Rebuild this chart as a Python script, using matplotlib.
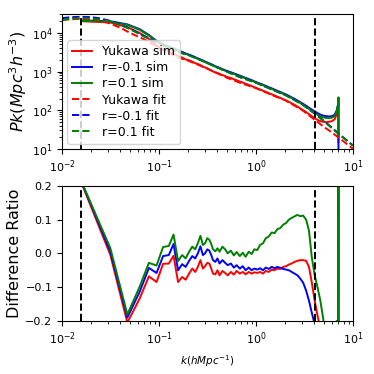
import numpy as np
import matplotlib
matplotlib.use('Agg')
import matplotlib.pyplot as plt

# k bins of the simulations (h/Mpc)
k_sim = [0.0157, 0.0314, 0.0471, 0.0628, 0.0785, 0.0942, 0.110, 0.126, 0.141, 0.157,
         0.173, 0.188, 0.204, 0.220, 0.236, 0.251, 0.267, 0.283, 0.298, 0.314,
         0.330, 0.345, 0.360, 0.380, 0.400, 0.420, 0.450, 0.480, 0.510, 0.550,
         0.590, 0.630, 0.680, 0.730, 0.780, 0.840, 0.900, 0.960, 1.03, 1.10,
         1.18, 1.26, 1.35, 1.45, 1.55, 1.66, 1.78, 1.90, 2.04, 2.18,
         2.33, 2.50, 2.67, 2.86, 3.06, 3.28, 3.51, 3.75, 4.02, 4.30,
         4.60, 4.93, 5.27, 5.64, 6.04, 6.46, 6.80, 7.00, 7.07, 7.07]

pk_yukawa_sim = [20000, 18500, 14000, 10000, 7000, 4700, 3800, 3300, 2950, 2500,
                 2300, 2050, 1950, 1800, 1640, 1560, 1460, 1330, 1270, 1210,
                 1130, 1060, 1000, 950, 920, 860, 810, 760, 715, 680,
                 630, 595, 550, 520, 480, 452, 420, 393, 365, 342,
                 318, 298, 275, 257, 240, 222, 208, 193, 178, 165,
                 150, 137, 124, 111, 100, 89, 79, 70, 62, 56,
                 52, 50, 49, 50, 52, 58, 80, 115, 150, 15]
pk_rm01_sim = [21000, 20000, 16500, 12500, 8800, 6200, 5050, 4400, 4000, 3550,
               3200, 2930, 2720, 2520, 2340, 2180, 2030, 1900, 1800, 1700,
               1600, 1520, 1450, 1370, 1300, 1230, 1150, 1080, 1020, 955,
               895, 840, 785, 730, 685, 640, 598, 557, 515, 485,
               455, 423, 393, 367, 341, 316, 295, 275, 254, 234,
               214, 196, 178, 161, 145, 130, 116, 104, 93, 84,
               77, 72, 70, 69, 70, 76, 100, 140, 205, 0.5]
pk_rp01_sim = [20500, 19500, 16000, 12000, 8500, 6000, 4900, 4300, 3900, 3450,
               3100, 2850, 2650, 2450, 2280, 2120, 1980, 1850, 1750, 1650,
               1560, 1480, 1410, 1330, 1260, 1200, 1120, 1050, 990, 930,
               870, 815, 760, 710, 665, 620, 580, 540, 500, 470,
               440, 410, 380, 355, 330, 305, 285, 265, 245, 225,
               205, 188, 170, 153, 137, 122, 108, 96, 85, 76,
               69, 65, 63, 62, 64, 70, 95, 140, 215, 22]

# fitted spectra
k_fit = [0.01, 0.0125, 0.0157, 0.02, 0.025, 0.03, 0.04, 0.05, 0.07, 0.1,
         0.15, 0.2, 0.3, 0.5, 0.7, 1.0, 1.5, 2.0, 3.0, 4.0,
         5.0, 6.0, 7.0, 8.0, 10.0]
pk_yukawa_fit = [21500, 22500, 23000, 22500, 20500, 18000, 13500, 10000, 6800, 4100,
                 2400, 1900, 1250, 690, 500, 370, 240, 180, 100, 57,
                 37, 27, 20, 15.5, 10]
pk_rm01_fit = [24000, 25500, 26000, 25500, 23500, 21000, 16500, 12800, 8300, 5450,
               3350, 2720, 1800, 1000, 705, 520, 335, 250, 143, 83,
               53, 36, 25.5, 19.3, 12.2]
pk_rp01_fit = [21500, 23500, 24000, 23500, 22000, 20000, 16000, 12500, 8000, 5300,
               3250, 2650, 1750, 980, 690, 510, 330, 245, 140, 82,
               52, 35, 25, 19, 12]

# difference ratio sim vs fit
ratio_yukawa = [0.212, -0.004, -0.205, -0.135, -0.068, -0.085, -0.031, -0.030, -0.007, -0.085,
                -0.070, -0.078, -0.060, -0.045, -0.055, -0.040, -0.020, -0.045, -0.038, -0.028,
                -0.030, -0.045, -0.060, -0.062, -0.050, -0.065, -0.052, -0.058, -0.065, -0.055,
                -0.063, -0.052, -0.060, -0.055, -0.062, -0.055, -0.060, -0.056, -0.058, -0.055,
                -0.060, -0.052, -0.055, -0.048, -0.050, -0.045, -0.046, -0.040, -0.038, -0.033,
                -0.030, -0.025, -0.022, -0.020, -0.020, -0.022, -0.040, -0.085, -0.140, -0.185,
                -0.220, -0.260, -0.290, -0.300, -0.300, -0.290, -0.250, -0.250, 1.5, -1.0]
ratio_rm01 = [0.215, 0.006, -0.190, -0.115, -0.043, -0.058, -0.008, -0.005, 0.028, -0.050,
              -0.032, -0.040, -0.022, -0.008, -0.015, 0.000, 0.021, -0.005, 0.000, 0.012,
              0.008, -0.005, -0.020, -0.025, -0.015, -0.030, -0.020, -0.028, -0.035, -0.030,
              -0.042, -0.035, -0.045, -0.038, -0.050, -0.042, -0.050, -0.045, -0.048, -0.044,
              -0.050, -0.042, -0.046, -0.040, -0.044, -0.040, -0.043, -0.046, -0.048, -0.050,
              -0.055, -0.060, -0.065, -0.075, -0.087, -0.110, -0.140, -0.175, -0.210, -0.250,
              -0.290, -0.320, -0.340, -0.340, -0.330, -0.310, -0.250, -0.250, 2.0, -1.0]
ratio_rp01 = [0.215, 0.016, -0.181, -0.100, -0.028, -0.036, 0.019, 0.022, 0.056, -0.023,
              -0.005, -0.015, 0.005, 0.020, 0.012, 0.030, 0.052, 0.025, 0.030, 0.045,
              0.040, 0.028, 0.012, 0.006, 0.015, 0.005, 0.020, 0.012, 0.000, 0.008,
              -0.006, 0.004, -0.008, 0.002, -0.010, 0.005, -0.002, 0.012, 0.010, 0.025,
              0.030, 0.045, 0.050, 0.062, 0.060, 0.072, 0.075, 0.085, 0.090, 0.100,
              0.105, 0.110, 0.114, 0.110, 0.112, 0.100, 0.068, -0.010, -0.065, -0.100,
              -0.140, -0.195, -0.260, -0.300, -0.320, -0.300, -0.200, -0.250, 2.0, -1.0]

k_min = 0.0157
k_max = 4.05

plt.rcParams['font.size'] = 8
fig = plt.figure(figsize=(3.74, 3.74), dpi=100)
ax1 = fig.add_axes([0.166, 0.602, 0.778, 0.361])
ax2 = fig.add_axes([0.166, 0.142, 0.778, 0.361])

# top panel: power spectra
ax1.plot(k_sim, pk_yukawa_sim, color='red', lw=1.4, label='Yukawa sim')
ax1.plot(k_sim, pk_rm01_sim, color='blue', lw=1.4, label='r=-0.1 sim')
ax1.plot(k_sim, pk_rp01_sim, color='green', lw=1.4, label='r=0.1 sim')
ax1.plot(k_fit, pk_yukawa_fit, color='red', lw=1.4, ls='--', label='Yukawa fit')
ax1.plot(k_fit, pk_rm01_fit, color='blue', lw=1.4, ls='--', label='r=-0.1 fit')
ax1.plot(k_fit, pk_rp01_fit, color='green', lw=1.4, ls='--', label='r=0.1 fit')
ax1.axvline(k_min, color='black', ls='--', lw=1.4)
ax1.axvline(k_max, color='black', ls='--', lw=1.4)
ax1.set_xscale('log')
ax1.set_yscale('log')
ax1.set_xlim(0.01, 10)
ax1.set_ylim(10, 3.1e4)
ax1.set_ylabel(r'$Pk(Mpc^3h^{-3})$', fontsize=11.5, labelpad=2)
ax1.legend(loc='lower left', fontsize=9, labelspacing=0.25, handlelength=1.6,
           borderaxespad=0.4)

# bottom panel: difference ratio
ax2.plot(k_sim, ratio_yukawa, color='red', lw=1.4)
ax2.plot(k_sim, ratio_rm01, color='blue', lw=1.4)
ax2.plot(k_sim, ratio_rp01, color='green', lw=1.4)
ax2.axvline(k_min, color='black', ls='--', lw=1.4)
ax2.axvline(k_max, color='black', ls='--', lw=1.4)
ax2.set_xscale('log')
ax2.set_xlim(0.01, 10)
ax2.set_ylim(-0.2, 0.2)
ax2.set_yticks([-0.2, -0.1, 0.0, 0.1, 0.2])
ax2.set_ylabel('Difference Ratio', fontsize=11.5, labelpad=2)
ax2.set_xlabel(r'$k(hMpc^{-1})$', fontsize=7.5)

plt.savefig('out.png', dpi=100)
